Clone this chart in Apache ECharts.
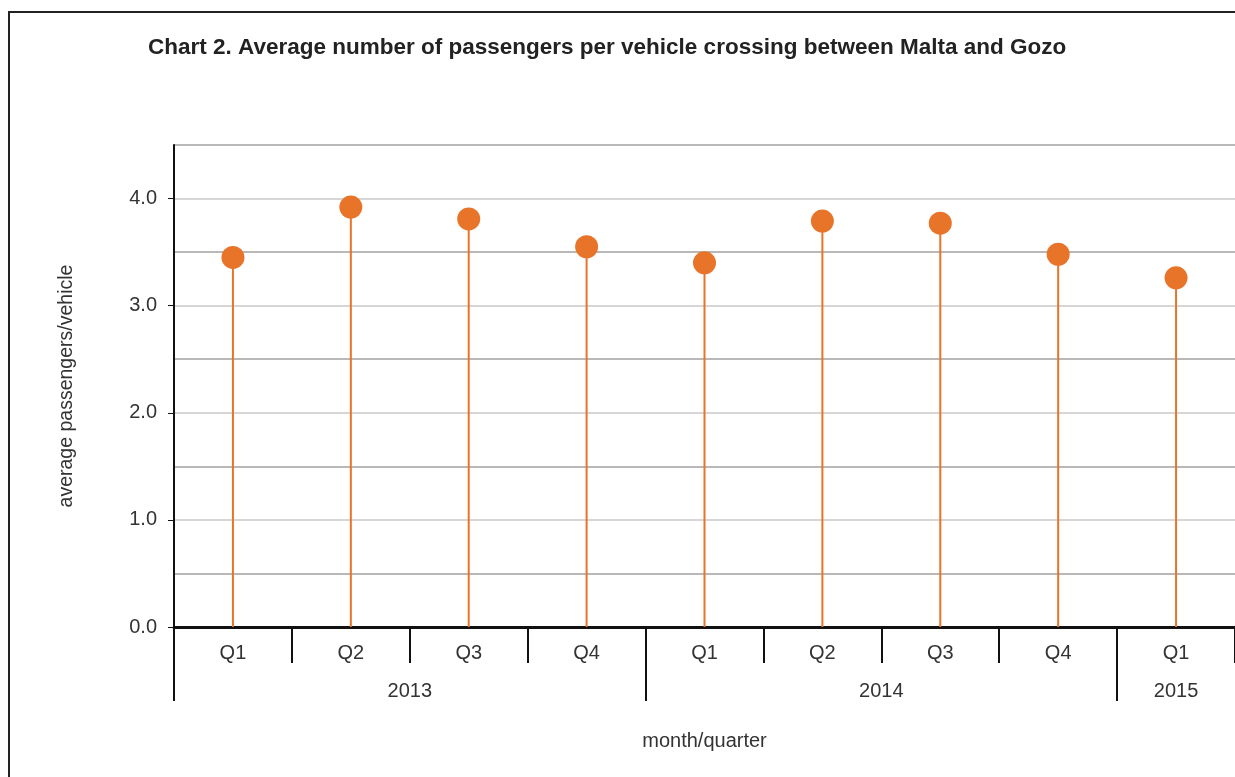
<!DOCTYPE html>
<html>
<head>
<meta charset="utf-8">
<title>Chart 2</title>
<script src="https://cdn.jsdelivr.net/npm/echarts@6/dist/echarts.min.js"></script>
<style>
  html, body { margin: 0; padding: 0; background: #fff; }
  #chart { width: 1235px; height: 777px; }
</style>
</head>
<body>
<div id="chart"></div>
<script>
// quarters along the bottom, grouped by year
const quarters = ['Q1', 'Q2', 'Q3', 'Q4', 'Q1', 'Q2', 'Q3', 'Q4', 'Q1'];
const years = ['2013', '2014', '2015'];
const yearSpans = [4, 4, 1];
// average passengers per vehicle
const passengers = [3.45, 3.92, 3.81, 3.55, 3.40, 3.79, 3.77, 3.48, 3.26];
const yTicks = [0, 1, 2, 3, 4];

const orange = '#e8742a';
const font = 'Arial, "Liberation Sans", sans-serif';

// year group boundaries and centres on a 0..9 scale
const yearEdges = [];
const yearMids = [];
let acc = 0;
yearSpans.forEach(n => {
  yearEdges.push(acc);
  yearMids.push(acc + n / 2);
  acc += n;
});

const chart = echarts.init(document.getElementById('chart'));
chart.setOption({
  animation: false,
  backgroundColor: '#fff',
  textStyle: { fontFamily: font },
  title: {
    text: 'Chart 2. Average number of passengers per vehicle crossing between Malta and Gozo',
    left: 143,
    top: 31,
    textStyle: { fontSize: 22.5, fontWeight: 'bold', color: '#222', fontFamily: font }
  },
  graphic: [{
    type: 'rect',
    shape: { x: 9, y: 12, width: 1400, height: 900 },
    style: { fill: null, stroke: '#222', lineWidth: 2 },
    silent: true
  }],
  grid: { left: 174, top: 145, right: -4, bottom: 150 },
  xAxis: [{
    type: 'category',
    data: quarters,
    boundaryGap: true,
    name: 'month/quarter',
    nameLocation: 'middle',
    nameGap: 104,
    nameTextStyle: { fontSize: 20, color: '#333' },
    axisLine: { lineStyle: { color: '#111', width: 3 } },
    axisTick: { show: true, interval: 0, alignWithLabel: false, length: 36, lineStyle: { color: '#111', width: 2 } },
    axisLabel: { interval: 0, margin: 16, fontSize: 20, color: '#333' },
    splitLine: { show: false }
  }, {
    type: 'value',
    min: 0,
    max: quarters.length,
    position: 'bottom',
    axisLine: { show: false },
    axisTick: { show: true, customValues: yearEdges, length: 74, lineStyle: { color: '#111', width: 2 } },
    axisLabel: {
      customValues: yearMids,
      margin: 54,
      fontSize: 20,
      color: '#333',
      formatter: v => years[yearMids.indexOf(v)] || ''
    },
    splitLine: { show: false }
  }],
  yAxis: [{
    type: 'value',
    min: 0,
    max: 4.5,
    interval: 0.5,
    name: 'average passengers/vehicle',
    nameLocation: 'middle',
    nameGap: 97,
    nameRotate: 90,
    nameTextStyle: { fontSize: 19.5, color: '#333' },
    axisLine: { show: true, lineStyle: { color: '#111', width: 2 } },
    axisTick: { show: true, customValues: yTicks, length: 6, lineStyle: { color: '#111', width: 1 } },
    axisLabel: {
      customValues: yTicks,
      margin: 17,
      fontSize: 20,
      color: '#333',
      formatter: v => v.toFixed(1)
    },
    splitLine: { show: false },
    z: 3
  }, {
    // gridlines every 0.5, half steps darker
    type: 'value',
    min: 0,
    max: 4.5,
    interval: 0.5,
    position: 'left',
    axisLine: { show: false },
    axisTick: { show: false },
    axisLabel: { show: false },
    splitLine: { show: true, lineStyle: { color: ['#d6d6d6', '#b8b8b8'], width: 2 } }
  }],
  series: [{
    type: 'bar',
    data: passengers,
    barWidth: 2,
    itemStyle: { color: orange },
    silent: true
  }, {
    type: 'scatter',
    data: passengers,
    symbol: 'circle',
    symbolSize: 23,
    itemStyle: { color: orange, opacity: 1 },
    z: 3
  }]
});
</script>
</body>
</html>
